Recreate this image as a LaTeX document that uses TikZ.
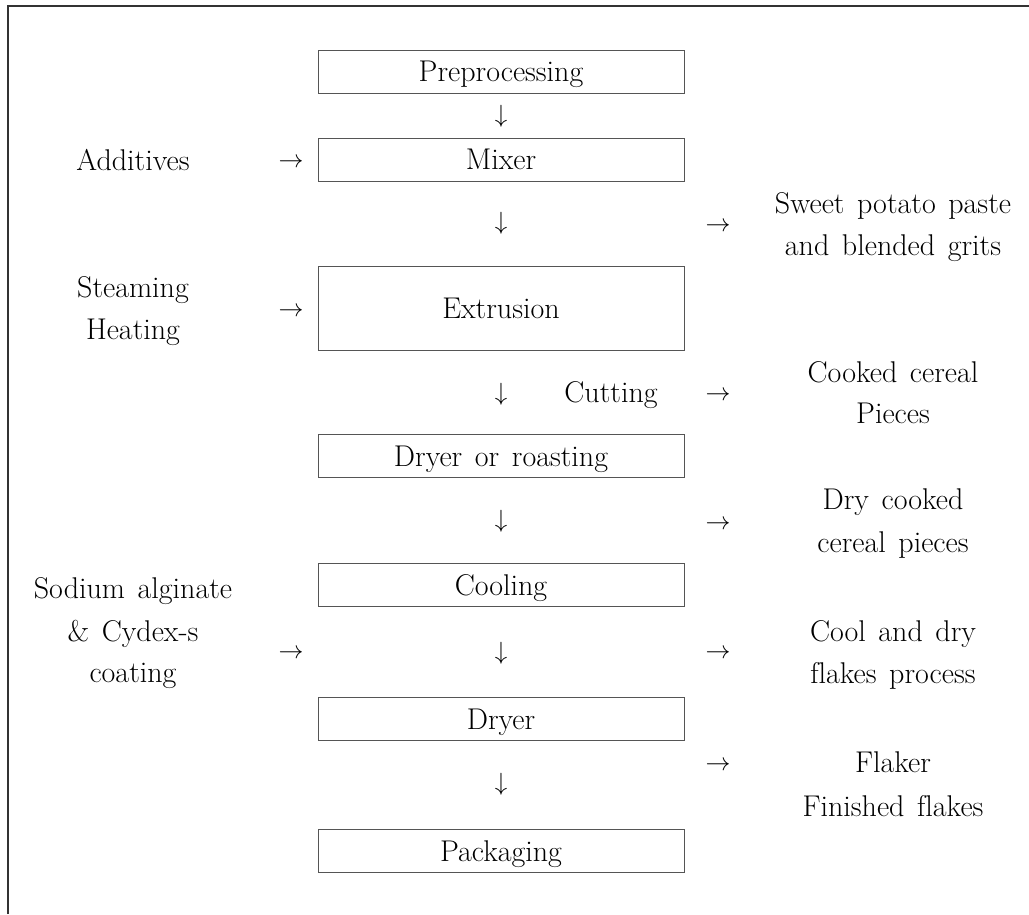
\documentclass[tikz,border=0pt]{standalone}
\definecolor{boxgray}{HTML}{555555}
\definecolor{framegray}{HTML}{333333}
\newcommand{\txtfont}{\fontsize{30}{36}\selectfont\spaceskip=0.42em\relax}
\newcommand{\nofl}{f\kern0pt l}
\begin{document}
\begin{tikzpicture}[x=1pt,y=-1pt,
  every node/.style={font=\txtfont, inner sep=0pt},
  proc/.style={draw=boxgray, line width=1pt, minimum width=366pt, minimum height=43pt, text height=20.5pt, text depth=0pt},
  lbl/.style={anchor=base}]
\useasboundingbox (0,0) rectangle (1029,914);
% frame
\coordinate (fbl) at (8,914);
\coordinate (fc) at (8,6);
\coordinate (ftr) at (1029,6);
\draw[framegray, line width=1.6pt] (fbl) -- (fc) -- (ftr);
% process boxes
\node[proc] (pre) at (501,71.5) {Preprocessing};
\node[proc] (mix) at (501,159.5) {Mixer};
\node[proc, minimum height=84pt] (ext) at (501,308) {Extrusion};
\node[proc] (dry1) at (501,456) {Dryer or roasting};
\node[proc] (cool) at (501,585) {Cooling};
\node[proc] (dry2) at (501,719) {Dryer};
\node[proc] (pack) at (501,851) {Packaging};
% down arrows (glyphs)
\node[lbl] (d1) at (501,122) {$\downarrow$};
\node[lbl] (d2) at (501,229) {$\downarrow$};
\node[lbl] (d3) at (501,400) {$\downarrow$};
\node[lbl] (d4) at (501,527) {$\downarrow$};
\node[lbl] (d5) at (501,659) {$\downarrow$};
\node[lbl] (d6) at (501,790) {$\downarrow$};
% left inputs
\node[lbl] (add) at (133,170) {Additives};
\node[lbl] (la1) at (291,167) {$\rightarrow$};
\node[lbl] (stm) at (133,297) {Steaming};
\node[lbl] (heat) at (133,339) {Heating};
\node[lbl] (la2) at (291,316) {$\rightarrow$};
\node[lbl] (sod1) at (133,598) {Sodium alginate};
\node[lbl] (sod2) at (133,641) {\& Cydex-s};
\node[lbl] (sod3) at (133,682) {coating};
\node[lbl] (la3) at (291,658) {$\rightarrow$};
% cutting
\node[lbl] (cut) at (611,402) {Cutting};
% right outputs
\node[lbl] (ra1) at (718,231) {$\rightarrow$};
\node[lbl] (o1a) at (893,213) {Sweet potato paste};
\node[lbl] (o1b) at (893,255) {and blended grits};
\node[lbl] (ra2) at (718,400) {$\rightarrow$};
\node[lbl] (o2a) at (893,382) {Cooked cereal};
\node[lbl] (o2b) at (893,423) {Pieces};
\node[lbl] (ra3) at (718,529) {$\rightarrow$};
\node[lbl] (o3a) at (893,509) {Dry cooked};
\node[lbl] (o3b) at (893,552) {cereal pieces};
\node[lbl] (ra4) at (718,658) {$\rightarrow$};
\node[lbl] (o4a) at (893,641) {Cool and dry};
\node[lbl] (o4b) at (893,683) {\nofl akes process};
\node[lbl] (ra5) at (718,770) {$\rightarrow$};
\node[lbl] (o5a) at (893,772) {Flaker};
\node[lbl] (o5b) at (893,816) {Finished \nofl akes};
\end{tikzpicture}
\end{document}
